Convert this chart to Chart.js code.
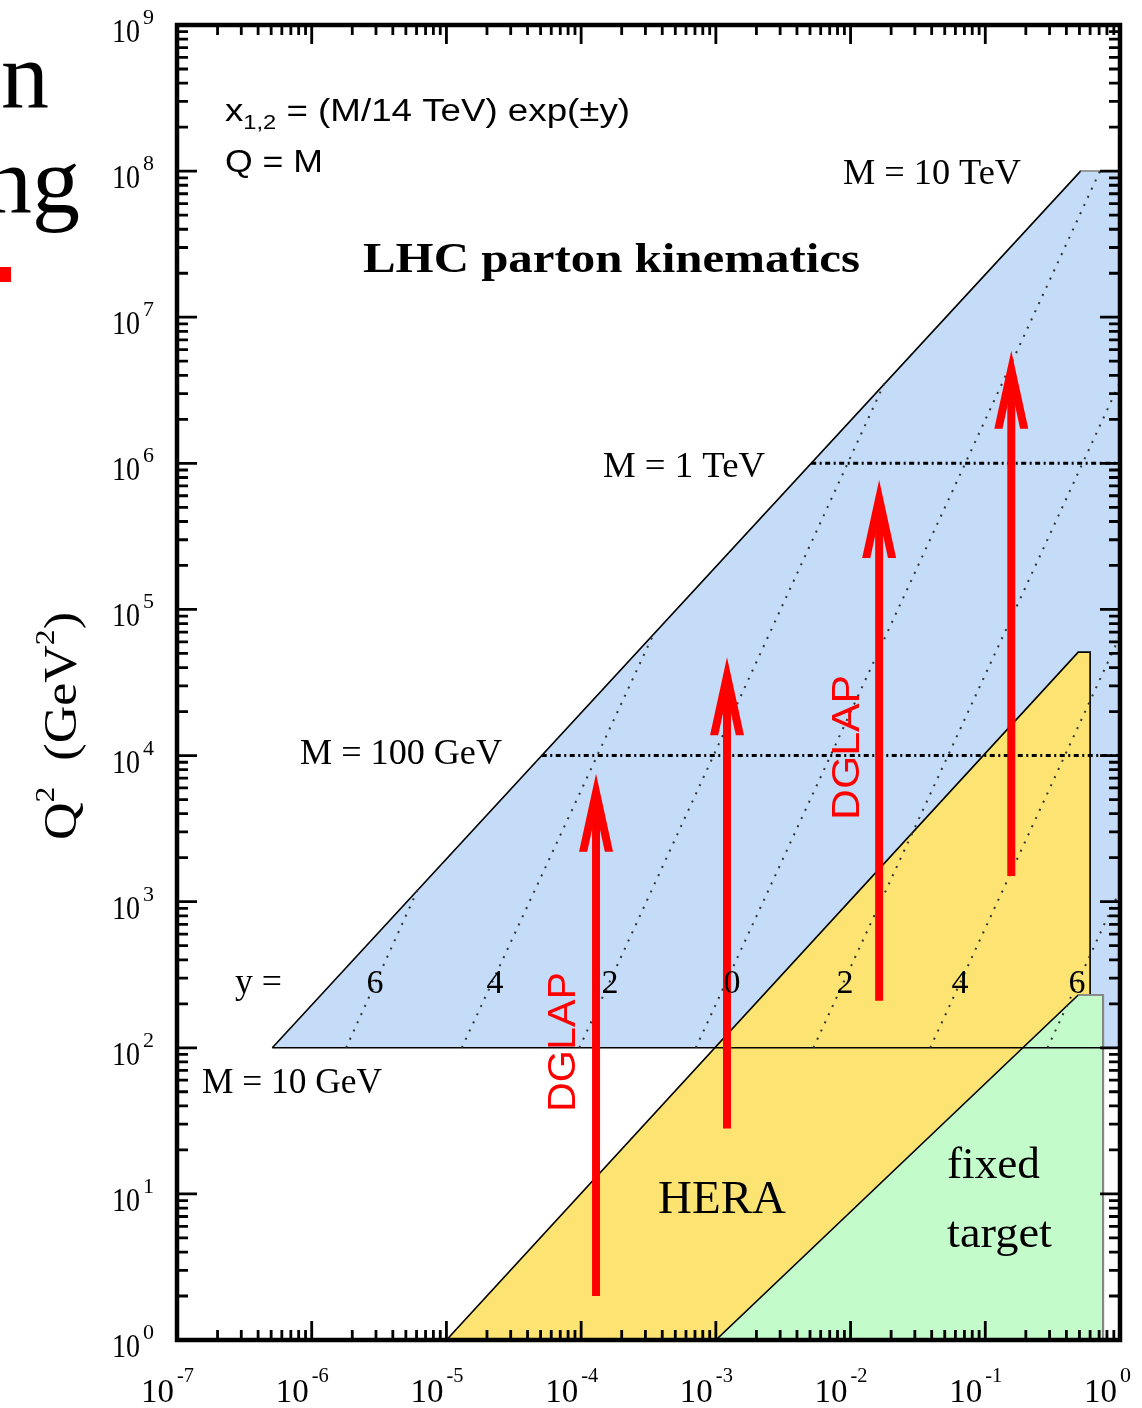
<!DOCTYPE html>
<html>
<head>
<meta charset="utf-8">
<script src="https://cdn.jsdelivr.net/npm/chart.js@4.4.0/dist/chart.umd.min.js"></script>
<style>
  html, body { margin: 0; padding: 0; background: #fff; }
  #wrap { width: 1142px; height: 1408px; }
</style>
</head>
<body>
<div id="wrap"><canvas id="kin" width="1142" height="1408"></canvas></div>
<script>
// kinematic regions (x, Q^2 in GeV^2)
const lhcX = [5.1e-7, 0.51, 1, 1];
const lhcQ2 = [100, 1e8, 1e8, 100];
const heraX = [1e-5, 0.49, 0.6, 0.6];
const heraQ2 = [1, 5.1e4, 5.1e4, 1];
const fixedX = [1e-3, 0.49, 0.75, 0.75];
const fixedQ2 = [1, 230, 230, 1];

// M = const lines
const massLabels = ['M = 10 GeV', 'M = 100 GeV', 'M = 1 TeV', 'M = 10 TeV'];
const massQ2 = [100, 1e4, 1e6, 1e8];
const massXStart = [5.1e-7, 5.1e-5, 5.1e-3, 0.51];

// y = const (rapidity) dotted lines: start at Q2 = 100, end on the LHC boundary
const rapLabels = ['6', '4', '2', '0', '2', '4', '6'];
const rapXStart = [1.8e-6, 1.3e-5, 9.7e-5, 7.1e-4, 5.3e-3, 3.9e-2, 0.29];
const rapXEnd = [6.1e-6, 3.4e-4, 1.8e-2, 0.71, 1, 1, 1];
const rapQ2End = [1.2e3, 6.6e4, 3.6e6, 1e8, 3.6e6, 6.6e4, 1.2e3];

// DGLAP evolution arrows
const arrowX = [1.29e-4, 1.21e-3, 1.63e-2, 0.156];
const arrowQ2From = [2.0, 28, 210, 1500];
const arrowQ2To = [7.5e3, 4.7e4, 7.7e5, 5.9e6];

// axis decades
const xDecades = [-7, -6, -5, -4, -3, -2, -1, 0];
const yDecades = [0, 1, 2, 3, 4, 5, 6, 7, 8, 9];

const SERIF = 'Liberation Serif';
const SANS = 'Liberation Sans';

function pts(xs, ys) {
    return xs.map((v, i) => ({ x: v, y: ys[i] }));
}

// draw a row of text pieces, squeezed/stretched to a given width
function runs(ctx, parts, x, y, width, angle, color) {
    ctx.save();
    let total = 0;
    parts.forEach(p => {
        ctx.font = p.font;
        p.w = ctx.measureText(p.t).width;
        total += p.w;
    });
    ctx.translate(x, y);
    if (angle) ctx.rotate(angle);
    if (width) ctx.scale(width / total, 1);
    ctx.fillStyle = color || '#000';
    ctx.textAlign = 'left';
    ctx.textBaseline = 'alphabetic';
    let cx = 0;
    parts.forEach(p => {
        ctx.font = p.font;
        ctx.fillText(p.t, cx, p.dy || 0);
        cx += p.w;
    });
    ctx.restore();
}

function text(ctx, t, font, x, y, width, color) {
    runs(ctx, [{ t, font }], x, y, width, 0, color);
}

const datasets = [];

// filled regions
datasets.push({
    data: pts(lhcX, lhcQ2), fill: 'shape', backgroundColor: '#c4dcf8',
    borderColor: '#000', borderWidth: 1.6, order: 10
});
datasets.push({
    data: pts(heraX, heraQ2), fill: 'shape', backgroundColor: '#fde472',
    borderColor: '#000', borderWidth: 1.6, order: 9
});
datasets.push({
    data: pts(fixedX, fixedQ2), fill: 'shape', backgroundColor: '#c4fbcb',
    borderColor: '#000', borderWidth: 1.6, order: 8
});
// grey edges on top of the black outlines
datasets.push({
    data: pts(lhcX.slice(1, 3), lhcQ2.slice(1, 3)),
    borderColor: '#9a9a9a', borderWidth: 2, fill: false, order: 7
});
datasets.push({
    data: pts(fixedX.slice(1), fixedQ2.slice(1)),
    borderColor: '#8a8a8a', borderWidth: 2, fill: false, order: 7
});

// M = 10 GeV solid line, 100 GeV and 1 TeV dash-dot
datasets.push({
    data: pts([massXStart[0], 1], [massQ2[0], massQ2[0]]),
    borderColor: '#000', borderWidth: 1.6, fill: false, order: 5
});
for (let i = 1; i <= 2; i++) {
    datasets.push({
        data: pts([massXStart[i], 1], [massQ2[i], massQ2[i]]),
        borderColor: '#000', borderWidth: 3, borderDash: [5, 3.5, 2, 3.5],
        fill: false, order: 4
    });
}

rapLabels.forEach((lab, i) => {
    datasets.push({
        data: pts([rapXStart[i], rapXEnd[i]], [100, rapQ2End[i]]),
        borderColor: '#333', borderWidth: 2, borderDash: [2, 7],
        fill: false, order: 3
    });
});

const arrows = {
    id: 'arrows',
    afterDatasetsDraw(chart) {
        const { ctx, scales: { x, y } } = chart;
        const W = 17, L = 78, t = 8;
        const h = Math.atan(W / L);
        ctx.save();
        ctx.fillStyle = '#ff0000';
        ctx.strokeStyle = '#ff0000';
        arrowX.forEach((ax, i) => {
            const px = x.getPixelForValue(ax);
            const y0 = y.getPixelForValue(arrowQ2From[i]);
            const y1 = y.getPixelForValue(arrowQ2To[i]);
            ctx.lineWidth = 8;
            ctx.beginPath();
            ctx.moveTo(px, y0);
            ctx.lineTo(px, y1 + 22);
            ctx.stroke();
            const d = t / Math.cos(h);
            const inner = t / Math.sin(h);
            ctx.beginPath();
            ctx.moveTo(px, y1);
            ctx.lineTo(px + W, y1 + L);
            ctx.lineTo(px + W - d, y1 + L);
            ctx.lineTo(px, y1 + inner);
            ctx.lineTo(px - W + d, y1 + L);
            ctx.lineTo(px - W, y1 + L);
            ctx.closePath();
            ctx.fill();
        });
        ctx.restore();
    }
};

const frame = {
    id: 'frame',
    afterDatasetsDraw(chart) {
        const { ctx, chartArea: a, scales: { x, y } } = chart;
        ctx.save();
        ctx.strokeStyle = '#000';
        ctx.lineWidth = 2.8;
        ctx.beginPath();
        xDecades.forEach((d, i) => {
            for (let m = 1; m < 10; m++) {
                if (i === xDecades.length - 1 && m > 1) break;
                const px = x.getPixelForValue(m * Math.pow(10, d));
                const len = m === 1 ? 19 : 10;
                ctx.moveTo(px, a.bottom); ctx.lineTo(px, a.bottom - len);
                ctx.moveTo(px, a.top); ctx.lineTo(px, a.top + len);
            }
        });
        yDecades.forEach((d, i) => {
            for (let m = 1; m < 10; m++) {
                if (i === yDecades.length - 1 && m > 1) break;
                const py = y.getPixelForValue(m * Math.pow(10, d));
                const len = m === 1 ? 20 : 11;
                ctx.moveTo(a.left, py); ctx.lineTo(a.left + len, py);
                ctx.moveTo(a.right, py); ctx.lineTo(a.right - len, py);
            }
        });
        ctx.stroke();
        ctx.lineWidth = 4.5;
        ctx.strokeRect(a.left, a.top, a.right - a.left, a.bottom - a.top);
        ctx.restore();
    }
};

const labels = {
    id: 'labels',
    afterDraw(chart) {
        const { ctx, scales: { x, y } } = chart;

        // tick labels
        yDecades.forEach(d => {
            const py = y.getPixelForValue(Math.pow(10, d));
            text(ctx, '10', '33px ' + SERIF, 112, py + 17, 28);
            text(ctx, String(d), '20px ' + SERIF, 143, py - 1, 11);
        });
        xDecades.forEach(d => {
            const px = x.getPixelForValue(Math.pow(10, d));
            text(ctx, '10', '33px ' + SERIF, px - 36, 1402, 33);
            const e = d === 0 ? '0' : String(d);
            text(ctx, e, '20px ' + SERIF, px, 1382, d === 0 ? 11 : 17);
        });

        // axis title
        runs(ctx, [
            { t: 'Q', font: '46px ' + SERIF },
            { t: '2', font: '28px ' + SERIF, dy: -22 },
            { t: '  (GeV', font: '46px ' + SERIF },
            { t: '2', font: '28px ' + SERIF, dy: -22 },
            { t: ')', font: '46px ' + SERIF }
        ], 76, 840, 228, -Math.PI / 2);

        // formula
        runs(ctx, [
            { t: 'x', font: '31px ' + SANS },
            { t: '1,2', font: '20px ' + SANS, dy: 8 },
            { t: ' = (M/14 TeV) exp(\u00b1y)', font: '31px ' + SANS }
        ], 225, 121, 405);
        text(ctx, 'Q = M', '31px ' + SANS, 225, 172, 98);

        text(ctx, 'LHC parton kinematics', 'bold 42px ' + SERIF, 363, 272, 497);

        text(ctx, massLabels[3], '36px ' + SERIF, 843, 184, 178);
        text(ctx, massLabels[2], '36px ' + SERIF, 603, 477, 162);
        text(ctx, massLabels[1], '36px ' + SERIF, 300, 764, 202);
        text(ctx, massLabels[0], '36px ' + SERIF, 202, 1093, 180);

        text(ctx, 'y =', '36px ' + SERIF, 235, 993, 47);
        const rapLabelPx = [375, 495, 610, 732, 845, 960, 1077];
        ctx.save();
        ctx.font = '34px ' + SERIF;
        ctx.textAlign = 'center';
        ctx.fillStyle = '#000';
        rapLabels.forEach((lab, i) => ctx.fillText(lab, rapLabelPx[i], 993));
        ctx.restore();

        runs(ctx, [{ t: 'DGLAP', font: '38px ' + SANS }], 575, 1112, 140, -Math.PI / 2, '#ff0000');
        runs(ctx, [{ t: 'DGLAP', font: '38px ' + SANS }], 859, 820, 145, -Math.PI / 2, '#ff0000');

        text(ctx, 'HERA', '47px ' + SERIF, 658, 1213, 128);
        text(ctx, 'fixed', '45px ' + SERIF, 947, 1178, 93);
        text(ctx, 'target', '45px ' + SERIF, 947, 1247, 105);

        // slide text cut off at the left edge
        ctx.save();
        ctx.font = '96px ' + SERIF;
        ctx.fillStyle = '#000';
        ctx.textAlign = 'right';
        ctx.fillText('an', 49, 108);
        ctx.fillText('ng', 80, 213);
        ctx.fillStyle = '#ff0000';
        ctx.fillRect(0, 267, 11, 15);
        ctx.restore();
    }
};

new Chart(document.getElementById('kin'), {
    type: 'line',
    data: { datasets },
    options: {
        responsive: false,
        animation: false,
        layout: { padding: { left: 177, top: 25, right: 22, bottom: 68 } },
        elements: { point: { radius: 0 }, line: { tension: 0 } },
        plugins: { legend: { display: false }, tooltip: { enabled: false } },
        scales: {
            x: { type: 'logarithmic', min: 1e-7, max: 1, display: false },
            y: { type: 'logarithmic', min: 1, max: 1e9, display: false }
        }
    },
    plugins: [arrows, frame, labels]
});
</script>
</body>
</html>
